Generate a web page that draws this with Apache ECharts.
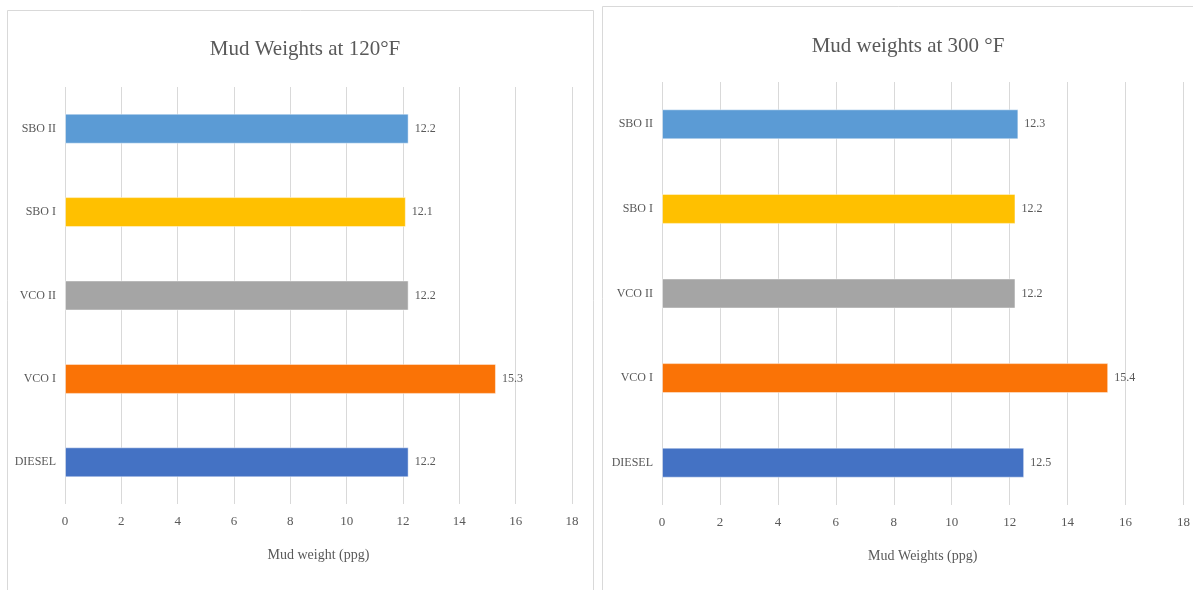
<!DOCTYPE html>
<html>
<head>
<meta charset="utf-8">
<script src="https://cdn.jsdelivr.net/npm/echarts@6/dist/echarts.min.js"></script>
<style>
  html, body { margin: 0; padding: 0; background: #fff; }
  #chart { width: 1193px; height: 590px; }
</style>
</head>
<body>
<div id="chart"></div>
<script>
// 类别（从下到上）
const categories = ['DIESEL', 'VCO I', 'VCO II', 'SBO I', 'SBO II'];
const barColors = ['#4472c4', '#fa7306', '#a5a5a5', '#ffc000', '#5b9bd5'];
const weights120 = [12.2, 15.3, 12.2, 12.1, 12.2]; // 120°F
const weights300 = [12.5, 15.4, 12.2, 12.2, 12.3]; // 300 °F
const xTicks = [0, 2, 4, 6, 8, 10, 12, 14, 16, 18];

const fontFamily = "'Liberation Serif', 'Times New Roman', serif";
const textColor = '#595959';
const gridColor = '#d9d9d9';

function makeX(gridIndex, name) {
  return {
    type: 'value',
    gridIndex: gridIndex,
    min: xTicks[0],
    max: xTicks[xTicks.length - 1],
    interval: 2,
    name: name,
    nameLocation: 'middle',
    nameGap: 44,
    nameTextStyle: { color: textColor, fontFamily: fontFamily, fontSize: 14 },
    axisLine: { show: false },
    axisTick: { show: false },
    axisLabel: { color: textColor, fontFamily: fontFamily, fontSize: 13, margin: 11 },
    splitLine: { show: true, lineStyle: { color: gridColor, width: 1 } }
  };
}

function makeY(gridIndex) {
  return {
    type: 'category',
    gridIndex: gridIndex,
    data: categories,
    axisLine: { show: false },
    axisTick: { show: false },
    axisLabel: { color: textColor, fontFamily: fontFamily, fontSize: 12, margin: 9 }
  };
}

function makeSeries(idx, values) {
  return {
    type: 'bar',
    xAxisIndex: idx,
    yAxisIndex: idx,
    barWidth: 30,
    data: values.map((v, i) => ({
      value: v,
      itemStyle: { color: barColors[i], borderColor: 'rgba(255,255,255,0.45)', borderWidth: 1 }
    })),
    label: {
      show: true,
      position: 'right',
      distance: 6,
      color: textColor,
      fontFamily: fontFamily,
      fontSize: 12,
      formatter: p => p.value.toFixed(1)
    }
  };
}

const myChart = echarts.init(document.getElementById('chart'));
const option = {
  animation: false,
  backgroundColor: '#fff',
  graphic: [
    { type: 'rect', shape: { x: 7.5, y: 10.5, width: 586, height: 600 },
      style: { fill: 'none', stroke: gridColor, lineWidth: 1 } },
    { type: 'rect', shape: { x: 602.5, y: 6.5, width: 600, height: 600 },
      style: { fill: 'none', stroke: gridColor, lineWidth: 1 } }
  ],
  title: [
    { text: 'Mud Weights at 120°F', left: 300, top: 34, textAlign: 'center',
      textStyle: { color: textColor, fontFamily: fontFamily, fontSize: 21, fontWeight: 'normal' } },
    { text: 'Mud weights at 300 °F', left: 903, top: 31, textAlign: 'center',
      textStyle: { color: textColor, fontFamily: fontFamily, fontSize: 21, fontWeight: 'normal' } }
  ],
  grid: [
    { left: 65, top: 87, width: 507, height: 417 },
    { left: 662, top: 82, width: 524, height: 423 }
  ],
  xAxis: [makeX(0, 'Mud weight (ppg)'), makeX(1, 'Mud Weights (ppg)')],
  yAxis: [makeY(0), makeY(1)],
  series: [makeSeries(0, weights120), makeSeries(1, weights300)]
};
myChart.setOption(option);
</script>
</body>
</html>
